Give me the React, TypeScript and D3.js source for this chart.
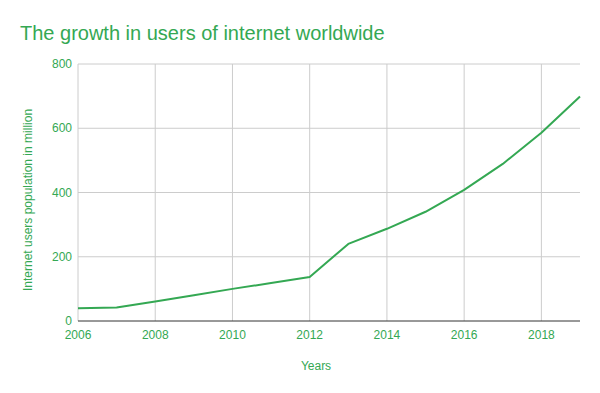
import React from 'react';
import * as d3 from 'd3';

const years = [2006, 2007, 2008, 2009, 2010, 2011, 2012, 2013, 2014, 2015, 2016, 2017, 2018, 2019];
const users = [40, 42, 61, 80, 100, 118, 137, 240, 287, 340, 408, 489, 586, 699];
const xTicks = [2006, 2008, 2010, 2012, 2014, 2016, 2018];
const yTicks = [0, 200, 400, 600, 800];

const GREEN = '#34a853';
const FONT = 'Liberation Sans, Arial, sans-serif';

export default function App() {
  const width = 600;
  const height = 393;
  const left = 78, right = 580, top = 64, bottom = 321;

  const x = d3.scaleLinear().domain([2006, 2019]).range([left, right]);
  const y = d3.scaleLinear().domain([0, 800]).range([bottom, top]);

  const line = d3.line<number>()
    .x((_, i) => x(years[i]))
    .y((d) => y(d));

  return (
    <svg width={width} height={height} style={{ position: 'absolute', left: 0, top: 0 }}>
      <rect width={width} height={height} fill="#fff" />
      <text x={20} y={40} fontFamily={FONT} fontSize={20} fill={GREEN}>
        The growth in users of internet worldwide
      </text>

      {yTicks.map((t) => (
        <g key={'y' + t}>
          {t > 0 && <line x1={left} x2={right} y1={y(t)} y2={y(t)} stroke="#cccccc" strokeWidth={1} />}
          <text x={72} y={y(t) + 4} textAnchor="end" fontFamily={FONT} fontSize={12} fill={GREEN}>{t}</text>
        </g>
      ))}
      {xTicks.map((t) => (
        <g key={'x' + t}>
          <line x1={x(t)} x2={x(t)} y1={top} y2={bottom} stroke="#cccccc" strokeWidth={1} />
          <text x={x(t)} y={bottom + 18} textAnchor="middle" fontFamily={FONT} fontSize={12} fill={GREEN}>{t}</text>
        </g>
      ))}
      <line x1={left} x2={right} y1={bottom} y2={bottom} stroke="#333333" strokeWidth={1} />

      <path d={line(users) ?? ''} fill="none" stroke={GREEN} strokeWidth={2} strokeLinejoin="round" />

      <text x={316} y={370} textAnchor="middle" fontFamily={FONT} fontSize={12} fill={GREEN}>Years</text>
      <text transform="translate(32, 200) rotate(-90)" textAnchor="middle" fontFamily={FONT} fontSize={12} fill={GREEN}>
        Internet users population in million
      </text>
    </svg>
  );
}
